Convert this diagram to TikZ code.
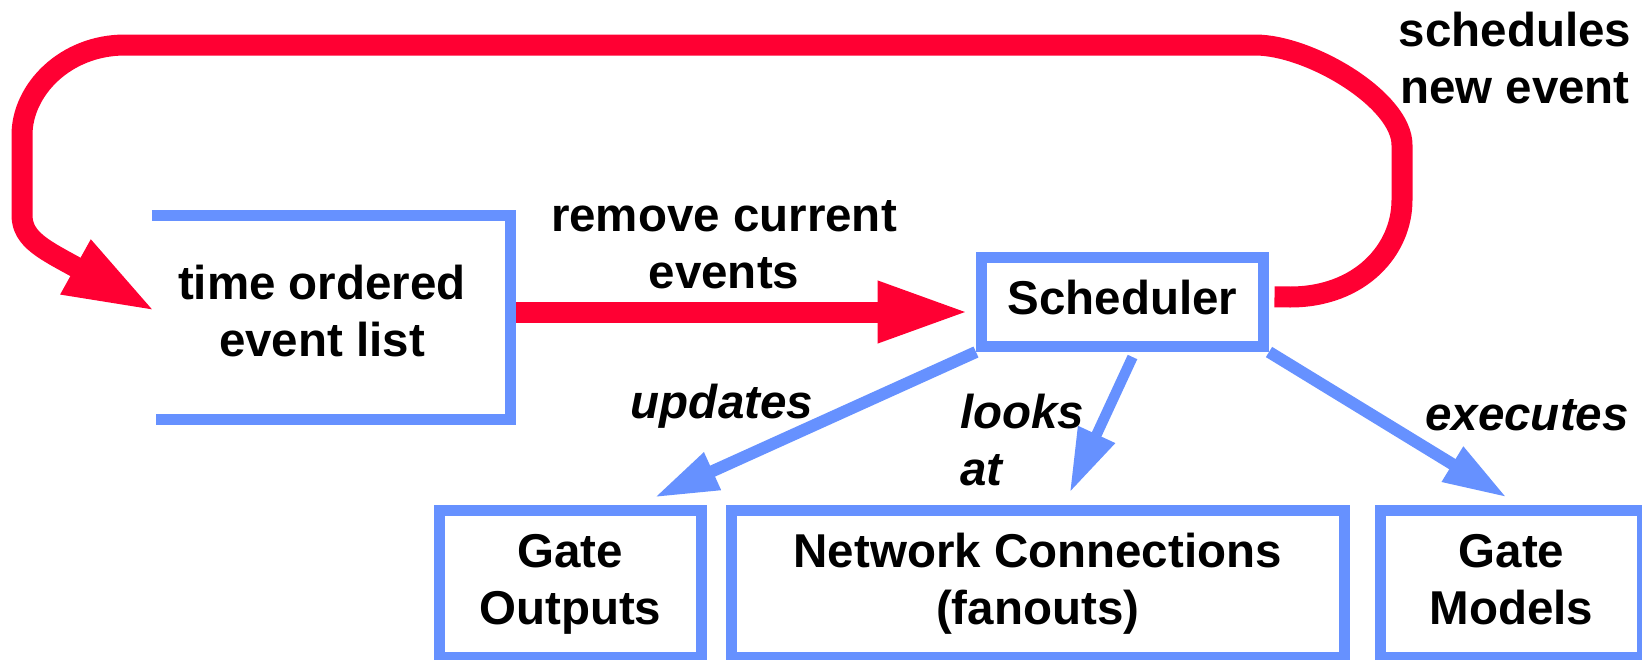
\documentclass[tikz,border=0pt]{standalone}
\usepackage{fontspec}
\setmainfont{Liberation Sans}
\usetikzlibrary{arrows.meta,calc}
\definecolor{ered}{RGB}{255,0,51}
\definecolor{eblue}{RGB}{102,145,255}
\begin{document}
\begin{tikzpicture}[x=1pt,y=-1pt,
  lbl/.style={font={\fontsize{47.5}{57}\selectfont\bfseries}, inner sep=0pt, align=center, text height=94pt, text depth=12pt},
  lblone/.style={font={\fontsize{47.5}{57}\selectfont\bfseries}, inner sep=0pt, text height=36pt, text depth=10pt},
  ital/.style={font={\fontsize{47.5}{57}\selectfont\bfseries\itshape}},
  box/.style={draw=eblue, line width=11pt, inner sep=0pt},
  bluearrow/.style={draw=eblue, line width=12pt, -{Triangle[length=64pt,width=38pt]}},
  redarrow/.style={draw=ered, line width=21pt, line join=round, -{Triangle[length=93pt,width=56pt]}}
]
\useasboundingbox (0,0) rectangle (1642,659);

% nodes
\node[box, lblone, minimum width=282pt, minimum height=89.5pt] (sch) at (1122.5,301.75) {Scheduler};
\node[box, lbl, minimum width=261.5pt, minimum height=147.5pt] (go) at (570.25,583.75) {Gate\\Outputs};
\node[box, lbl, minimum width=612.5pt, minimum height=147.5pt] (net) at (1037.75,583.75) {Network Connections\\(fanouts)};
\node[box, lbl, minimum width=262pt, minimum height=147.5pt] (gm) at (1511.5,583.75) {Gate\\Models};
\node[minimum width=358pt, minimum height=203pt, inner sep=0pt] (tel) at (331,317.5) {};
\node[lbl] (telt) at (322,315) {time ordered\\event list};

% red connectors
\draw[redarrow] ($(tel.east)+(5.5,-5.5)$) -- ($(sch.west)+(-5.5,10.25)$);
\draw[redarrow] ($(sch.east)+(5.5,-5)$) -- (1290,297)
  .. controls (1360,297) and (1402,250) .. (1402,200) -- (1402,145)
  .. controls (1402,100) and (1310,45) .. (1255,45) -- (125,45)
  .. controls (65,45) and (22,90) .. (22,135) -- (22,215)
  .. controls (22,240) and (45,250) .. ($(tel.west)+(5,-5.5)$);

% open frame of the event list
\draw[eblue, line width=11pt] (tel.north west) -- (tel.north east) -- (tel.south east) -- ($(tel.south west)+(4,0)$);

% blue connectors
\draw[bluearrow] (sch.south west) -- ($(go.north)+(84,-7)$);
\draw[bluearrow, line width=10.5pt] ($(sch.south)+(10,5)$) -- ($(net.north)+(32,-12)$);
\draw[bluearrow] (sch.south east) -- ($(gm.north)+(-4.5,-7)$);

% labels
\node[lbl] (rem) at (724,247) {remove current\\events};
\node[lbl] (sched) at (1515,62) {schedules\\new event};
\node[lblone, ital, anchor=base] (upd) at (722,418) {updates};
\node[lbl, ital, align=left, anchor=north west] (looks) at (960,391) {looks\\at};
\node[lblone, ital, anchor=base] (exe) at (1527,430) {executes};
\end{tikzpicture}
\end{document}
